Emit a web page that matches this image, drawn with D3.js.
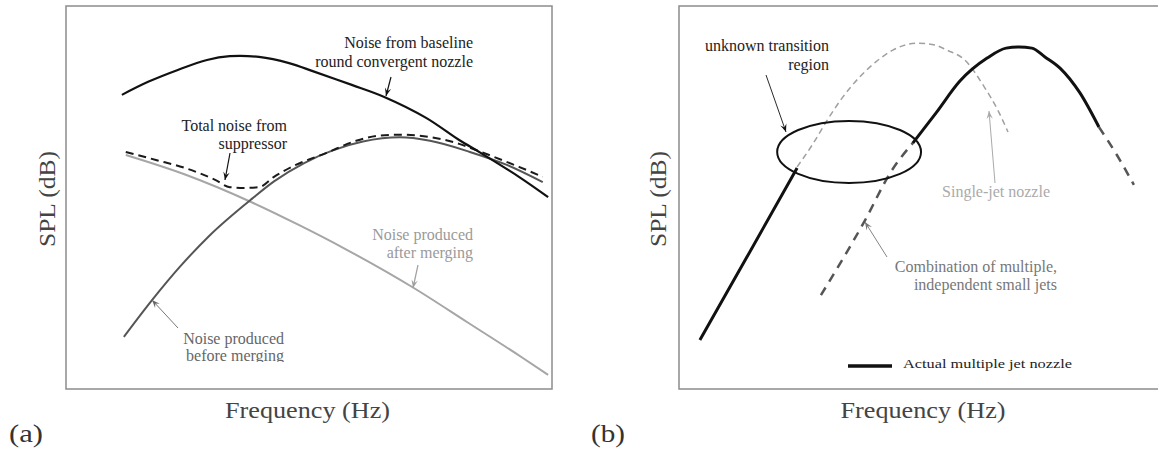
<!DOCTYPE html>
<html>
<head>
<meta charset="utf-8">
<script src="https://cdn.jsdelivr.net/npm/d3@7"></script>
<style>
html,body{margin:0;padding:0;background:#fff;}
svg{display:block;}
text{font-family:"Liberation Serif","DejaVu Serif",serif;}
</style>
</head>
<body>
<svg id="chart" width="1158" height="452"></svg>
<script>
// ---------- DATA (arbitrary units: frequency 0-100, SPL 0-100) ----------
// Panel (a)
const baselineNozzle = [[11.5,76.8],[16.9,80.2],[23.0,83.3],[29.0,85.9],[33.7,86.9],[39.7,86.7],[45.9,85.1],[51.2,82.8],[58.8,79.4],[65.6,76.2],[74.1,70.8],[80.9,65.0],[85.4,61.6],[93.2,55.4],[99.2,50.1]];
const totalSuppressor = [[12.3,61.9],[18.5,59.8],[24.5,57.7],[30.7,54.6],[33.7,52.7],[36.6,52.5],[39.7,52.7],[42.8,55.4],[47.3,58.5],[53.5,61.6],[59.7,64.8],[64.2,66.1],[68.7,66.4],[74.9,65.8],[80.9,64.0],[85.4,61.9],[93.2,58.0],[98.1,55.4]];
const afterMerging = [[12.3,61.1],[24.5,56.0],[38.3,48.7],[48.1,42.7],[57.4,36.6],[71.4,26.5],[82.5,17.5],[94.0,8.1],[99.2,3.7]];
const beforeMerging = [[11.9,13.6],[17.7,23.2],[23.5,32.0],[29.4,39.9],[38.3,49.7],[42.8,54.2],[49.0,59.0],[54.9,62.3],[61.1,64.6],[68.7,65.7],[74.9,64.8],[83.1,61.9],[90.7,58.5],[98.1,54.0]];
// Panel (b)
const actualLow = [[4.3,12.8],[14.0,34.5],[24.3,57.7]];
const actualHigh = [[48.1,64.2],[52.9,72.1],[57.8,80.4],[63.4,86.4],[67.3,89.0],[70.0,89.3],[72.6,89.0],[75.3,86.7],[78.4,83.8],[82.5,77.3],[86.4,68.4]];
const combinationLow = [[29.2,24.5],[38.3,44.1],[43.6,56.7],[48.1,64.2]];
const combinationHigh = [[86.4,68.4],[90.1,61.1],[93.6,53.3]];
const singleJet = [[24.3,58.0],[27.4,63.7],[30.5,70.2],[33.7,76.2],[37.2,81.5],[40.5,85.4],[44.0,88.5],[49.0,90.3],[52.7,89.8],[55.1,88.5],[58.8,85.9],[62.8,78.9],[65.6,72.8],[67.7,67.1]];
const transitionRegion = {cx:35.0, cy:61.9, rx:14.8, ry:8.1};

const panelLabels = ["(a)","(b)"];
const xAxisLabel = "Frequency (Hz)";
const yAxisLabel = "SPL (dB)";

// ---------- SETUP ----------
const svg = d3.select("#chart");
const xA = d3.scaleLinear().domain([0,100]).range([66,552]);
const yA = d3.scaleLinear().domain([0,100]).range([389,6]);
const xB = d3.scaleLinear().domain([0,100]).range([679,1165]);
const yB = d3.scaleLinear().domain([0,100]).range([389,6]);

function drawLine(data, xs, ys, opts){
  const gen = d3.line().x(d=>xs(d[0])).y(d=>ys(d[1])).curve(opts.curve||d3.curveMonotoneX);
  svg.append("path").datum(data).attr("d",gen)
    .attr("fill","none").attr("stroke",opts.color).attr("stroke-width",opts.width)
    .attr("stroke-dasharray",opts.dash||null).attr("stroke-linecap",opts.cap||"butt")
    .attr("stroke-linejoin","round");
}
function txt(x,y,s,o){
  const t = svg.append("text").attr("x",x).attr("y",y).text(s)
    .attr("font-size",o.size||16).attr("fill",o.color||"#222")
    .attr("text-anchor",o.anchor||"start");
  if(o.len){ t.attr("textLength",o.len).attr("lengthAdjust","spacingAndGlyphs"); }
  if(o.clip){ t.attr("clip-path",o.clip); }
  return t;
}
function arrow(x1,y1,x2,y2,color,w){
  svg.append("line").attr("x1",x1).attr("y1",y1).attr("x2",x2).attr("y2",y2)
    .attr("stroke",color).attr("stroke-width",w||1);
  const a = Math.atan2(y2-y1,x2-x1), L=8, hw=3.2;
  const c=Math.cos(a), s=Math.sin(a);
  const p = [[x2,y2],[x2-L*c-hw*s, y2-L*s+hw*c],[x2-0.6*L*c, y2-0.6*L*s],[x2-L*c+hw*s, y2-L*s-hw*c]];
  svg.append("path").attr("d","M"+p.map(q=>q.join(",")).join("L")+"Z").attr("fill",color);
}

const defs = svg.append("defs");
defs.append("clipPath").attr("id","clipBefore").append("rect").attr("x",0).attr("y",0).attr("width",1158).attr("height",362);

// ---------- PANEL (a) ----------
svg.append("rect").attr("x",xA(0)).attr("y",yA(100)).attr("width",xA(100)-xA(0)).attr("height",yA(0)-yA(100))
  .attr("fill","none").attr("stroke","#8c8c8c").attr("stroke-width",1.5);

drawLine(afterMerging,xA,yA,{color:"#a6a6a6",width:2});
drawLine(beforeMerging,xA,yA,{color:"#555",width:2});
drawLine(totalSuppressor,xA,yA,{color:"#1a1a1a",width:2,dash:"8,5"});
drawLine(baselineNozzle,xA,yA,{color:"#111",width:2.2,curve:d3.curveCatmullRom.alpha(0.5)});

txt(473,48,"Noise from baseline",{anchor:"end",color:"#222"});
txt(473,67,"round convergent nozzle",{anchor:"end",color:"#222"});
arrow(391,77,386,96,"#111",1.2);

txt(287,131,"Total noise from",{anchor:"end",color:"#222"});
txt(287,149,"suppressor",{anchor:"end",color:"#222"});
arrow(230,153,225,180,"#111",1.2);

txt(473,240,"Noise produced",{anchor:"end",color:"#9a9a9a"});
txt(473,258,"after merging",{anchor:"end",color:"#9a9a9a"});
arrow(418,265,413,288,"#a0a0a0",1.2);

txt(284,344,"Noise produced",{anchor:"end",color:"#666"});
txt(284,361,"before merging",{anchor:"end",color:"#666",clip:"url(#clipBefore)"});
arrow(178,328,152,300,"#666",0.9);

txt(307.5,418,xAxisLabel,{anchor:"middle",size:24,color:"#444",len:165});
svg.append("text").attr("transform","translate(55,199) rotate(-90)").attr("text-anchor","middle")
  .attr("font-size",24).attr("fill","#444").attr("textLength",96).attr("lengthAdjust","spacingAndGlyphs").text(yAxisLabel);
txt(9,442,panelLabels[0],{size:26,color:"#333",len:34});

// ---------- PANEL (b) ----------
svg.append("rect").attr("x",xB(0)).attr("y",yB(100)).attr("width",520).attr("height",yB(0)-yB(100))
  .attr("fill","none").attr("stroke","#8c8c8c").attr("stroke-width",1.5);

drawLine(singleJet,xB,yB,{color:"#a0a0a0",width:1.5,dash:"6,4"});
drawLine(combinationLow,xB,yB,{color:"#555",width:2.5,dash:"9,7"});
drawLine(combinationHigh,xB,yB,{color:"#555",width:2.5,dash:"9,7"});
drawLine(actualLow,xB,yB,{color:"#111",width:3,curve:d3.curveLinear});
drawLine(actualHigh,xB,yB,{color:"#111",width:3});

svg.append("ellipse")
  .attr("cx",xB(transitionRegion.cx)).attr("cy",yB(transitionRegion.cy))
  .attr("rx",xB(transitionRegion.rx)-xB(0)).attr("ry",yB(0)-yB(transitionRegion.ry))
  .attr("fill","none").attr("stroke","#111").attr("stroke-width",2);

txt(829,51,"unknown transition",{anchor:"end",color:"#222"});
txt(829,70,"region",{anchor:"end",color:"#222"});
arrow(766,75,786,132,"#111",0.9);

txt(1050,197,"Single-jet nozzle",{anchor:"end",color:"#aaaaaa"});
arrow(995,183,989,111,"#aaaaaa",1);

txt(1057,272,"Combination of multiple,",{anchor:"end",color:"#777"});
txt(1057,290,"independent small jets",{anchor:"end",color:"#777"});
arrow(887,257,865,222,"#777",0.9);

svg.append("line").attr("x1",848).attr("x2",892).attr("y1",366).attr("y2",366).attr("stroke","#111").attr("stroke-width",3.5);
txt(903,368,"Actual multiple jet nozzle",{size:13,color:"#222",len:169});

txt(923,418,xAxisLabel,{anchor:"middle",size:24,color:"#444",len:165});
svg.append("text").attr("transform","translate(666,199) rotate(-90)").attr("text-anchor","middle")
  .attr("font-size",24).attr("fill","#444").attr("textLength",96).attr("lengthAdjust","spacingAndGlyphs").text(yAxisLabel);
txt(591,442,panelLabels[1],{size:26,color:"#333",len:34});
</script>
</body>
</html>
